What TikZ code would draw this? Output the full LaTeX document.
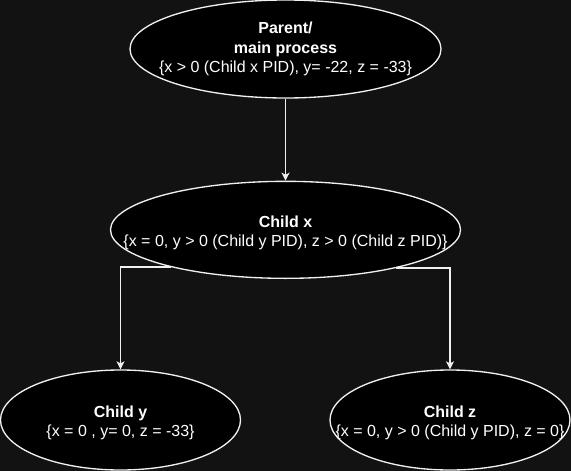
\documentclass[tikz,border=0pt]{standalone}
\usepackage{fontspec}
\setmainfont{Liberation Sans}
\usetikzlibrary{arrows.meta, positioning, shapes.geometric}
\definecolor{bgcolor}{RGB}{18, 18, 18}
\definecolor{linecolor}{RGB}{240, 240, 240}

\begin{document}
\begin{tikzpicture}[
        x=0.75pt, y=-0.75pt,
        process/.style={ellipse, draw=linecolor, fill=black, line width=1pt, inner sep=0pt},
        proctext/.style={align=center, text=white, inner sep=0pt, font=\fontsize{12}{14.4}\selectfont},
        arrow/.style={draw=linecolor, line width=1pt, -{Stealth[length=6pt, width=6pt, inset=1.5pt]}}
    ]
        % Background
        \fill[bgcolor] (0,0) rectangle (571,471);
        \useasboundingbox (0,0) rectangle (571,471);

        % Parent process
        \node (parent) [process, minimum width=233.25pt, minimum height=73.5pt] at (285.5,49) {};
        \node (parenttext) [proctext] at (parent) {\textbf{Parent/}\\\textbf{main process}\\\{x > 0 (Child x PID), y= -22, z = -33\}};

        % First child
        \node (childx) [process, minimum width=262.5pt, minimum height=72.75pt, below=61.5pt of parent] {};
        \node (childxtext) [proctext, yshift=-2pt] at (childx) {\textbf{Child x}\\\{x = 0, y > 0 (Child y PID), z > 0 (Child z PID)\}};

        % Children of child x
        \node (childy) [process, minimum width=180pt, minimum height=75pt] at (120.5,420) {};
        \node (childytext) [proctext, yshift=-2pt] at (childy) {\textbf{Child y}\\\{x = 0 , y= 0, z = -33\}};
        \node (childz) [process, minimum width=180pt, minimum height=75pt] at (450,420) {};
        \node (childztext) [proctext, yshift=-2pt] at (childz) {\textbf{Child z}\\\{x = 0, y > 0 (Child y PID), z = 0\}};

        % Arrows
        \draw [arrow] (parent) -- (childx);
        \draw [arrow] (childx.198.7) -| (childy.north);
        \draw [arrow] (childx.341.3) -| (childz.north);
    \end{tikzpicture}
\end{document}
